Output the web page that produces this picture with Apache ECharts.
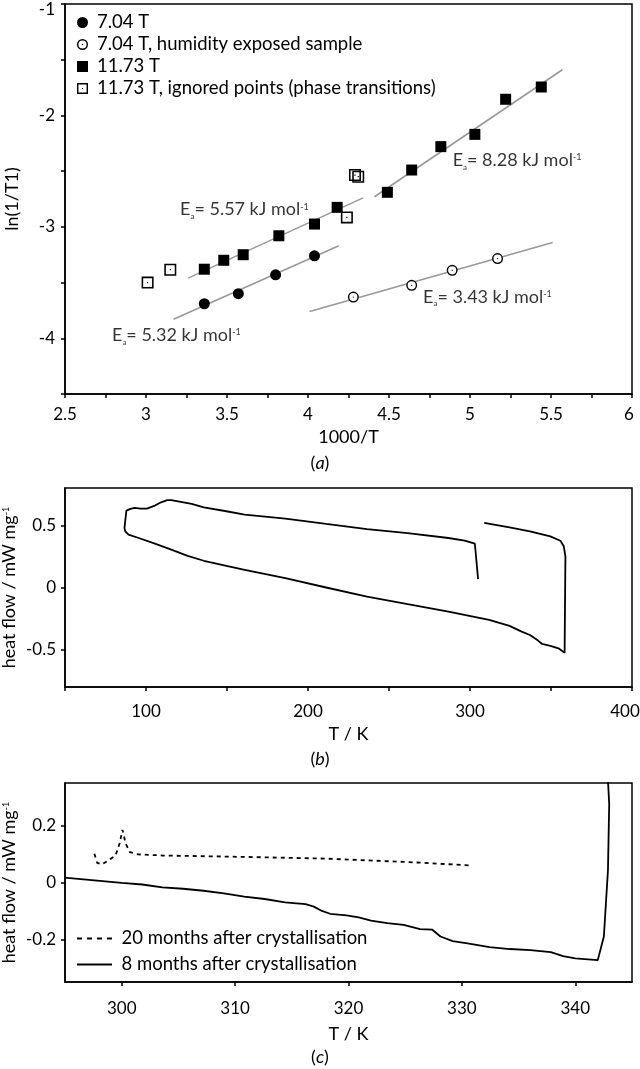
<!DOCTYPE html>
<html>
<head>
<meta charset="utf-8">
<script src="https://cdn.jsdelivr.net/npm/echarts@6/dist/echarts.min.js"></script>
<style>html,body{margin:0;padding:0;background:#fff}#c{width:640px;height:1069px}</style>
</head>
<body>
<div id="c"></div>
<script>
// ---------- Panel (a) data ----------
const a704X = [3.36, 3.57, 3.80, 4.04];
const a704Y = [-3.69, -3.60, -3.43, -3.26];
const aHumX = [4.28, 4.64, 4.89, 5.17];
const aHumY = [-3.63, -3.525, -3.39, -3.285];
const a1173X = [3.36, 3.48, 3.60, 3.82, 4.04, 4.18, 4.49, 4.64, 4.82, 5.03, 5.22, 5.44];
const a1173Y = [-3.38, -3.30, -3.25, -3.08, -2.975, -2.825, -2.69, -2.49, -2.28, -2.17, -1.855, -1.745];
const aIgnX = [3.01, 3.15, 4.24, 4.29, 4.31];
const aIgnY = [-3.50, -3.385, -2.915, -2.535, -2.55];
// fitted lines (start/end)
const fit704X = [3.17, 4.19];   const fit704Y = [-3.83, -3.17];
const fitHumX = [4.01, 5.51];   const fitHumY = [-3.76, -3.14];
const fitLowX = [3.26, 4.34];   const fitLowY = [-3.46, -2.74];
const fitHighX = [4.41, 5.57];  const fitHighY = [-2.73, -1.59];
// activation energy annotations
const annotX = [4.893, 3.21, 2.79, 4.71];
const annotY = [-2.40, -2.843, -3.97, -3.627];
const annotEa = ['8.28', '5.57', '5.32', '3.43'];
const aXTicks = ['2.5', '3', '3.5', '4', '4.5', '5', '5.5', '6'];
const aYTicks = ['-1', '-2', '-3', '-4'];

// ---------- Panel (b) data ----------
const bT = [305.0, 303.0, 296.7, 286.7, 261.5, 236.4, 211.2, 186.0, 160.9, 149.6, 135.7, 128.2, 115.6, 113.1, 109.3, 105.5, 100.5, 96.7, 93.0, 90.4, 87.9, 86.7, 86.7, 87.2, 89.2, 95.5, 105.5, 115.6, 125.7, 135.7, 160.9, 186.0, 211.2, 236.4, 261.5, 286.7, 311.8, 324.4, 331.9, 337.0, 342.0, 344.5, 349.6, 354.6, 358.4, 358.9, 358.9, 357.9, 355.8, 349.6, 337.0, 324.4, 308.8];
const bHF = [0.067, 0.352, 0.376, 0.398, 0.438, 0.470, 0.511, 0.554, 0.586, 0.613, 0.645, 0.672, 0.702, 0.702, 0.685, 0.659, 0.634, 0.634, 0.640, 0.632, 0.618, 0.605, 0.478, 0.452, 0.425, 0.398, 0.352, 0.304, 0.255, 0.215, 0.142, 0.075, 0.0, -0.073, -0.134, -0.194, -0.261, -0.309, -0.355, -0.382, -0.427, -0.454, -0.470, -0.489, -0.524, -0.516, 0.25, 0.331, 0.376, 0.411, 0.452, 0.484, 0.519];
const bXTicks = [100, 200, 300, 400];
const bYTicks = [-0.5, 0, 0.5];

// ---------- Panel (c) data ----------
const c20T = [297.59, 297.84, 298.27, 298.85, 299.46, 299.82, 300.07, 300.36, 300.72, 301.44, 303.60, 310.81, 318.02, 325.23, 330.81];
const c20HF = [0.101, 0.069, 0.064, 0.078, 0.095, 0.138, 0.185, 0.136, 0.107, 0.099, 0.095, 0.090, 0.084, 0.072, 0.060];
const c8T = [294.95, 300.0, 301.80, 303.60, 305.41, 307.21, 309.01, 310.81, 312.61, 314.41, 316.22, 316.94, 317.66, 318.38, 319.82, 320.90, 321.98, 323.42, 324.86, 326.31, 327.39, 328.11, 329.19, 330.63, 332.43, 334.23, 336.04, 337.84, 338.92, 340.0, 341.98, 342.52, 342.88, 342.99, 342.88];
const c8HF = [0.0174, -0.0012, -0.007, -0.0174, -0.022, -0.029, -0.038, -0.050, -0.058, -0.070, -0.076, -0.085, -0.100, -0.110, -0.116, -0.123, -0.134, -0.143, -0.149, -0.164, -0.166, -0.190, -0.206, -0.215, -0.227, -0.234, -0.238, -0.245, -0.259, -0.267, -0.273, -0.190, 0.043, 0.276, 0.36];
const cXTicks = [300, 310, 320, 330, 340];
const cYTicks = [-0.2, 0, 0.2];

const zip = (xs, ys) => xs.map((x, i) => [x, ys[i]]);

const FONT = 'Lato';
const BLACK = '#000';
const FS = 17;   // tick labels
const FT = 18;   // other text
const FL = 18.5; // legend text
const RING_C = 'path://M10,0A10,10,0,1,1,10,20A10,10,0,1,1,10,0ZM10,2.6A7.4,7.4,0,1,0,10,17.4A7.4,7.4,0,1,0,10,2.6ZM10,8.8A1.2,1.2,0,1,1,10,11.2A1.2,1.2,0,1,1,10,8.8Z';
const RING_S = 'path://M0,0H20V20H0ZM2.6,2.6V17.4H17.4V2.6ZM9,9H11V11H9Z';
const DASH_ICON = 'path://M0,0H5V2H0ZM10,0H15V2H10ZM20,0H25V2H20ZM30,0H35V2H30Z';
const SOLID_ICON = 'path://M0,0H35V2H0Z';

const supRich = {
  n: { fontFamily: FONT, fontSize: FT, lineHeight: 22, color: BLACK },
  sub: { fontFamily: FONT, fontSize: 8, lineHeight: 6, verticalAlign: 'bottom', color: BLACK },
  sup: { fontFamily: FONT, fontSize: 9, lineHeight: 6, verticalAlign: 'top', padding: [4, 0, 0, 0], color: BLACK }
};

const lbl = { color: BLACK, fontFamily: FONT, fontSize: FS };
const nameStyle = { color: BLACK, fontFamily: FONT, fontSize: FT };
const axLine = { show: true, onZero: false, lineStyle: { color: BLACK, width: 1.5 } };
const tick = { show: true, length: 4, lineStyle: { color: BLACK, width: 1.5 } };
// edge labels nudged inside the picture, as in the original figure
const edgeRich = {
  down: { fontFamily: FONT, fontSize: FS, color: BLACK, padding: [12, 0, 0, 0] },
  left: { fontFamily: FONT, fontSize: FS, color: BLACK, padding: [0, 14, 0, 0] },
  left2: { fontFamily: FONT, fontSize: FS, color: BLACK, padding: [0, 6, 0, 0] }
};

const grids = [
  { left: 65, top: 4, width: 567, height: 390 },
  { left: 65, top: 488, width: 567, height: 199 },
  { left: 65, top: 783, width: 567, height: 199 }
].map(g => Object.assign(g, { show: true, borderColor: BLACK, borderWidth: 1.5, backgroundColor: 'transparent',
  containLabel: false, outerBoundsMode: 'none' }));

const isMult = (v, m) => Math.abs(v / m - Math.round(v / m)) < 1e-6;

const xAxes = [
  { gridIndex: 0, type: 'value', min: 2.5, max: 6, interval: 0.25,
    axisLine: axLine, axisTick: tick, splitLine: { show: false },
    axisLabel: Object.assign({}, lbl, { margin: 12, interval: 0, showMinLabel: true, showMaxLabel: true, rich: edgeRich,
      formatter: v => {
        if (!isMult(v, 0.5)) return '';
        const s = aXTicks[Math.round((v - 2.5) / 0.5)];
        return v === 6 ? '{left2|' + s + '}' : s;
      } }),
    name: '1000/T', nameLocation: 'middle', nameGap: 34, nameMoveOverlap: false, nameTextStyle: nameStyle },
  { gridIndex: 1, type: 'value', min: 50, max: 400, interval: 50,
    axisLine: axLine, axisTick: tick, splitLine: { show: false },
    axisLabel: Object.assign({}, lbl, { margin: 16, interval: 0, rich: edgeRich,
      formatter: v => bXTicks.indexOf(v) < 0 ? '' : (v === 400 ? '{left|' + v + '}' : String(v)) }),
    name: 'T / K', nameLocation: 'middle', nameGap: 38, nameMoveOverlap: false, nameTextStyle: nameStyle },
  { gridIndex: 2, type: 'value', min: 295, max: 345,
    axisLine: axLine, splitLine: { show: false },
    axisTick: Object.assign({}, tick, { customValues: cXTicks }),
    axisLabel: Object.assign({}, lbl, { margin: 18, customValues: cXTicks }),
    name: 'T / K', nameLocation: 'middle', nameGap: 43, nameMoveOverlap: false, nameTextStyle: nameStyle }
];

const yAxes = [
  { gridIndex: 0, type: 'value', min: -4.5, max: -1, interval: 0.5,
    axisLine: axLine, axisTick: tick, splitLine: { show: false },
    axisLabel: Object.assign({}, lbl, { margin: 10, interval: 0, showMaxLabel: true, rich: edgeRich,
      formatter: v => {
        if (!isMult(v, 1)) return '';
        const s = aYTicks[Math.round(-1 - v)];
        return v === -1 ? '{down|' + s + '}' : s;
      } }),
    name: 'ln(1/T1)', nameLocation: 'middle', nameGap: 44, nameMoveOverlap: false, nameTextStyle: nameStyle },
  { gridIndex: 1, type: 'value', min: -0.8, max: 0.8,
    axisLine: axLine, splitLine: { show: false },
    axisTick: Object.assign({}, tick, { customValues: bYTicks }),
    axisLabel: Object.assign({}, lbl, { margin: 9, customValues: bYTicks }),
    name: '{n|heat flow / mW mg}{sup|-1}', nameLocation: 'middle', nameGap: 45, nameMoveOverlap: false,
    nameTextStyle: Object.assign({}, nameStyle, { rich: supRich }) },
  { gridIndex: 2, type: 'value', min: -0.35, max: 0.35,
    axisLine: axLine, splitLine: { show: false },
    axisTick: Object.assign({}, tick, { customValues: cYTicks }),
    axisLabel: Object.assign({}, lbl, { margin: 9, customValues: cYTicks }),
    name: '{n|heat flow / mW mg}{sup|-1}', nameLocation: 'middle', nameGap: 45, nameMoveOverlap: false,
    nameTextStyle: Object.assign({}, nameStyle, { rich: supRich }) }
];

const fitLine = (xs, ys) => ({
  type: 'line', xAxisIndex: 0, yAxisIndex: 0, data: zip(xs, ys), symbol: 'none', z: 1,
  lineStyle: { color: '#999', width: 1.6 }, silent: true
});
const solid = { color: BLACK, opacity: 1 };

const series = [
  fitLine(fit704X, fit704Y), fitLine(fitHumX, fitHumY), fitLine(fitLowX, fitLowY), fitLine(fitHighX, fitHighY),
  { type: 'scatter', name: 'mask', xAxisIndex: 0, yAxisIndex: 0, data: zip(aHumX, aHumY),
    symbol: 'circle', symbolSize: 10, itemStyle: { color: '#fff', opacity: 1 }, z: 2 },
  { type: 'scatter', name: '7.04 T', xAxisIndex: 0, yAxisIndex: 0, data: zip(a704X, a704Y),
    symbol: 'circle', symbolSize: 11, itemStyle: solid, z: 3 },
  { type: 'scatter', name: '7.04 T, humidity exposed sample', xAxisIndex: 0, yAxisIndex: 0, data: zip(aHumX, aHumY),
    symbol: RING_C, symbolSize: 11, itemStyle: solid, z: 3 },
  { type: 'scatter', name: '11.73 T', xAxisIndex: 0, yAxisIndex: 0, data: zip(a1173X, a1173Y),
    symbol: 'rect', symbolSize: 11, itemStyle: solid, z: 3 },
  { type: 'scatter', name: '11.73 T, ignored points (phase transitions)', xAxisIndex: 0, yAxisIndex: 0, data: zip(aIgnX, aIgnY),
    symbol: RING_S, symbolSize: 12, itemStyle: solid, z: 3 },
  { type: 'scatter', name: 'annot', xAxisIndex: 0, yAxisIndex: 0, symbolSize: 0, z: 4, silent: true,
    data: annotX.map((x, i) => ({ value: [x, annotY[i]],
      label: { show: true, position: 'right', distance: 0,
        formatter: '{n|E}{sub|a}{n|= ' + annotEa[i] + ' kJ mol}{sup|-1}', rich: supRich } })) },
  { type: 'line', name: 'b', xAxisIndex: 1, yAxisIndex: 1, data: zip(bT, bHF), symbol: 'none',
    lineStyle: { color: BLACK, width: 1.8 } },
  { type: 'line', name: '20 months after crystallisation', xAxisIndex: 2, yAxisIndex: 2, data: zip(c20T, c20HF), symbol: 'none',
    lineStyle: { color: BLACK, width: 1.8, type: [4, 4] }, itemStyle: solid },
  { type: 'line', name: '8 months after crystallisation', xAxisIndex: 2, yAxisIndex: 2, data: zip(c8T, c8HF), symbol: 'none',
    lineStyle: { color: BLACK, width: 1.8 }, itemStyle: solid }
];

const legendText = { color: BLACK, fontFamily: FONT, fontSize: FL, lineHeight: 21, padding: [0, 0, 0, 4] };

const option = {
  animation: false,
  backgroundColor: '#fff',
  textStyle: { fontFamily: FONT },
  grid: grids, xAxis: xAxes, yAxis: yAxes, series: series,
  legend: [
    { data: [
        { name: '7.04 T', icon: 'circle' },
        { name: '7.04 T, humidity exposed sample', icon: RING_C },
        { name: '11.73 T', icon: 'rect' },
        { name: '11.73 T, ignored points (phase transitions)', icon: RING_S } ],
      orient: 'vertical', left: 77, top: 12, padding: 0, itemWidth: 11, itemHeight: 11, itemGap: 1,
      selectedMode: false, textStyle: legendText },
    { data: [
        { name: '20 months after crystallisation', icon: DASH_ICON },
        { name: '8 months after crystallisation', icon: SOLID_ICON } ],
      orient: 'vertical', left: 77, top: 928, padding: 0, itemWidth: 36, itemHeight: 2, itemGap: 5,
      selectedMode: false, textStyle: legendText }
  ],
  title: [
    { text: '({i|a})', left: 'center', top: 454 },
    { text: '({i|b})', left: 'center', top: 750 },
    { text: '({i|c})', left: 'center', top: 1048 }
  ].map(t => Object.assign(t, { padding: 0, textStyle: { color: BLACK, fontFamily: FONT, fontSize: FT, fontWeight: 'normal',
      rich: { i: { fontStyle: 'italic', fontFamily: FONT, fontSize: FT, color: BLACK } } } }))
};

const chart = echarts.init(document.getElementById('c'), null, { renderer: 'canvas' });
chart.setOption(option);
</script>
</body>
</html>
